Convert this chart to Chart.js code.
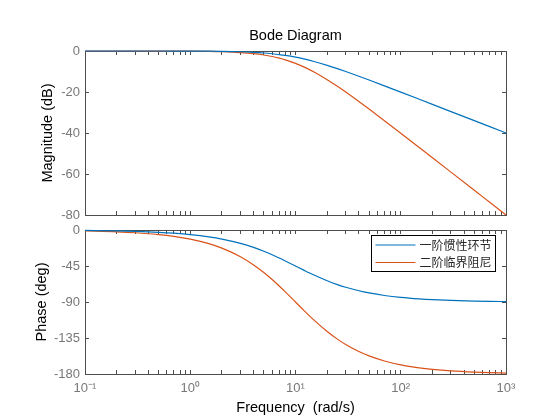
<!DOCTYPE html>
<html>
<head>
<meta charset="utf-8">
<script src="https://cdn.jsdelivr.net/npm/chart.js@4/dist/chart.umd.min.js"></script>
<style>
	html, body { margin: 0; padding: 0; background: #fff; }
	#wrap { position: relative; width: 560px; height: 420px; }
	canvas { position: absolute; left: 0; top: 0; }
</style>
</head>
<body>
<div id="wrap">
	<canvas id="mag" width="560" height="420"></canvas>
	<canvas id="phase" width="560" height="420"></canvas>
</div>
<script>
// frequency points (rad/s)
const freq = [0.1, 0.2, 0.3, 0.5, 0.7, 1, 1.5, 2, 3, 4, 5, 6, 7, 8, 10, 12, 15, 20, 25, 30, 40, 50, 70, 100, 150, 200, 300, 500, 700, 1000];

// magnitude (dB)
const magFirst = [-0.0004, -0.0017, -0.0039, -0.0108, -0.0212, -0.0432, -0.0966, -0.170, -0.374, -0.645, -0.969, -1.335, -1.732, -2.148, -3.010, -3.874, -5.119, -6.990, -8.603, -10.000, -12.304, -14.150, -16.990, -20.043, -23.541, -26.031, -29.547, -33.981, -36.903, -40.000];
const magSecond = [-0.0009, -0.0035, -0.0078, -0.0217, -0.0425, -0.0864, -0.193, -0.341, -0.749, -1.289, -1.938, -2.671, -3.464, -4.296, -6.021, -7.748, -10.238, -13.979, -17.206, -20.000, -24.609, -28.299, -33.979, -40.086, -47.082, -52.063, -59.094, -67.962, -73.806, -80.001];

// phase (deg)
const phaseFirst = [-0.573, -1.146, -1.718, -2.862, -4.004, -5.711, -8.531, -11.310, -16.699, -21.801, -26.565, -30.964, -34.992, -38.660, -45.000, -50.194, -56.310, -63.435, -68.199, -71.565, -75.964, -78.690, -81.870, -84.289, -86.186, -87.138, -88.091, -88.854, -89.182, -89.427];
const phaseSecond = [-1.146, -2.291, -3.436, -5.725, -8.008, -11.421, -17.062, -22.620, -33.398, -43.603, -53.130, -61.928, -69.984, -77.320, -90.000, -100.389, -112.620, -126.870, -136.397, -143.130, -151.928, -157.380, -163.740, -168.579, -172.372, -174.276, -176.182, -177.708, -178.363, -178.854];

const seriesNames = ['一阶惯性环节', '二阶临界阻尼'];
const seriesColors = ['#0072BD', '#D95319'];

const decades = [0.1, 1, 10, 100, 1000];
const decadeLabels = ['10⁻¹', '10⁰', '10¹', '10²', '10³'];
const magTicks = [0, -20, -40, -60, -80];
const phaseTicks = [0, -45, -90, -135, -180];

const FONT = '"Liberation Sans", Arial, Helvetica, sans-serif';
const AXIS_COLOR = '#4d4d4d';
const TEXT_COLOR = '#777777';
const TICK_LEN = -4;

const points = (ys) => freq.map((f, i) => ({ x: f, y: ys[i] }));

const logTickValues = () => {
	let list = [];
	for (let d = 0; d < decades.length; d++) {
		for (let k = 1; k <= 9; k++) {
			let v = +(decades[d] * k).toPrecision(3);
			if (v <= decades[decades.length - 1]) list.push({ value: v });
		}
	}
	return list;
};

const fixSize = (prop, size) => (scale) => { scale[prop] = size; };

const axisTitle = (text, pad) => ({
	display: true,
	text: text,
	color: '#000',
	font: { family: FONT, size: 14.5 },
	padding: pad
});

const xAxis = (position, showLabels, height, title) => ({
	type: 'logarithmic',
	position: position,
	min: decades[0],
	max: decades[decades.length - 1],
	afterBuildTicks: (scale) => { scale.ticks = logTickValues(); },
	afterFit: fixSize('height', height),
	grid: { drawOnChartArea: false, tickLength: TICK_LEN, color: AXIS_COLOR, tickColor: AXIS_COLOR },
	border: { color: AXIS_COLOR, width: 1 },
	title: title || { display: false },
	ticks: {
		display: showLabels,
		autoSkip: false,
		maxRotation: 0,
		padding: 11,
		color: TEXT_COLOR,
		font: { family: FONT, size: 13 },
		callback: (v) => {
			let idx = decades.findIndex(d => Math.abs(d - v) < d * 1e-6);
			return idx >= 0 ? decadeLabels[idx] : '';
		}
	}
});

const yAxis = (position, tickList, showLabels, width, title) => ({
	type: 'linear',
	position: position,
	min: Math.min(...tickList),
	max: Math.max(...tickList),
	afterBuildTicks: (scale) => { scale.ticks = tickList.map(v => ({ value: v })); },
	afterFit: fixSize('width', width),
	grid: { drawOnChartArea: false, tickLength: TICK_LEN, color: AXIS_COLOR, tickColor: AXIS_COLOR },
	border: { color: AXIS_COLOR, width: 1 },
	title: title || { display: false },
	ticks: {
		display: showLabels,
		padding: 9,
		color: TEXT_COLOR,
		font: { family: FONT, size: 13 },
		callback: (v) => String(v)
	}
});

const datasets = (first, second) => [
	{ label: seriesNames[0], data: points(first), borderColor: seriesColors[0], borderWidth: 1.2, pointRadius: 0, cubicInterpolationMode: 'monotone', clip: false },
	{ label: seriesNames[1], data: points(second), borderColor: seriesColors[1], borderWidth: 1.2, pointRadius: 0, cubicInterpolationMode: 'monotone', clip: false }
];

// legend with a box, drawn inside the phase plot
const boxLegend = {
	id: 'boxLegend',
	afterDatasetsDraw: (chart) => {
		const ctx = chart.ctx;
		const area = chart.chartArea;
		ctx.save();
		ctx.font = '12px "Noto Sans CJK SC", sans-serif';
		let textW = Math.max(...seriesNames.map(n => ctx.measureText(n).width));
		let w = 4 + 40 + 4 + textW + 4;
		let h = 36;
		let x = Math.round(area.right - 11 - w) + 0.5;
		let y = Math.round(area.top + 5) + 0.5;
		ctx.fillStyle = '#fff';
		ctx.fillRect(x, y, w, h);
		ctx.strokeStyle = '#000';
		ctx.lineWidth = 1;
		ctx.strokeRect(x, y, w, h);
		seriesNames.forEach((name, i) => {
			let ly = y + 9.5 + i * 17.5;
			ctx.strokeStyle = seriesColors[i];
			ctx.lineWidth = 1.2;
			ctx.beginPath();
			ctx.moveTo(x + 4, ly);
			ctx.lineTo(x + 44, ly);
			ctx.stroke();
			ctx.fillStyle = '#262626';
			ctx.textBaseline = 'middle';
			ctx.textAlign = 'left';
			ctx.fillText(name, x + 48, ly);
		});
		ctx.restore();
	}
};

new Chart(document.getElementById('mag'), {
	type: 'line',
	data: { datasets: datasets(magFirst, magSecond) },
	options: {
		responsive: false,
		animation: false,
		layout: { padding: { left: 0, right: 54, top: 0, bottom: 205 } },
		plugins: {
			legend: { display: false },
			tooltip: { enabled: false }
		},
		scales: {
			x: xAxis('bottom', false, 0),
			// the plot title sits on the top axis so it centres over the plot area
			x2: xAxis('top', false, 51, axisTitle('Bode Diagram', { top: 27.3 })),
			y: yAxis('left', magTicks, true, 85, axisTitle('Magnitude (dB)', { top: 39 })),
			y2: yAxis('right', magTicks, false, 0)
		}
	}
});

new Chart(document.getElementById('phase'), {
	type: 'line',
	data: { datasets: datasets(phaseFirst, phaseSecond) },
	options: {
		responsive: false,
		animation: false,
		layout: { padding: { left: 0, right: 54, top: 230, bottom: 0 } },
		plugins: {
			legend: { display: false },
			tooltip: { enabled: false }
		},
		scales: {
			x: xAxis('bottom', true, 46, axisTitle('Frequency  (rad/s)', { bottom: 3 })),
			x2: xAxis('top', false, 0),
			y: yAxis('left', phaseTicks, true, 85, axisTitle('Phase (deg)', { top: 33 })),
			y2: yAxis('right', phaseTicks, false, 0)
		}
	},
	plugins: [boxLegend]
});
</script>
</body>
</html>
